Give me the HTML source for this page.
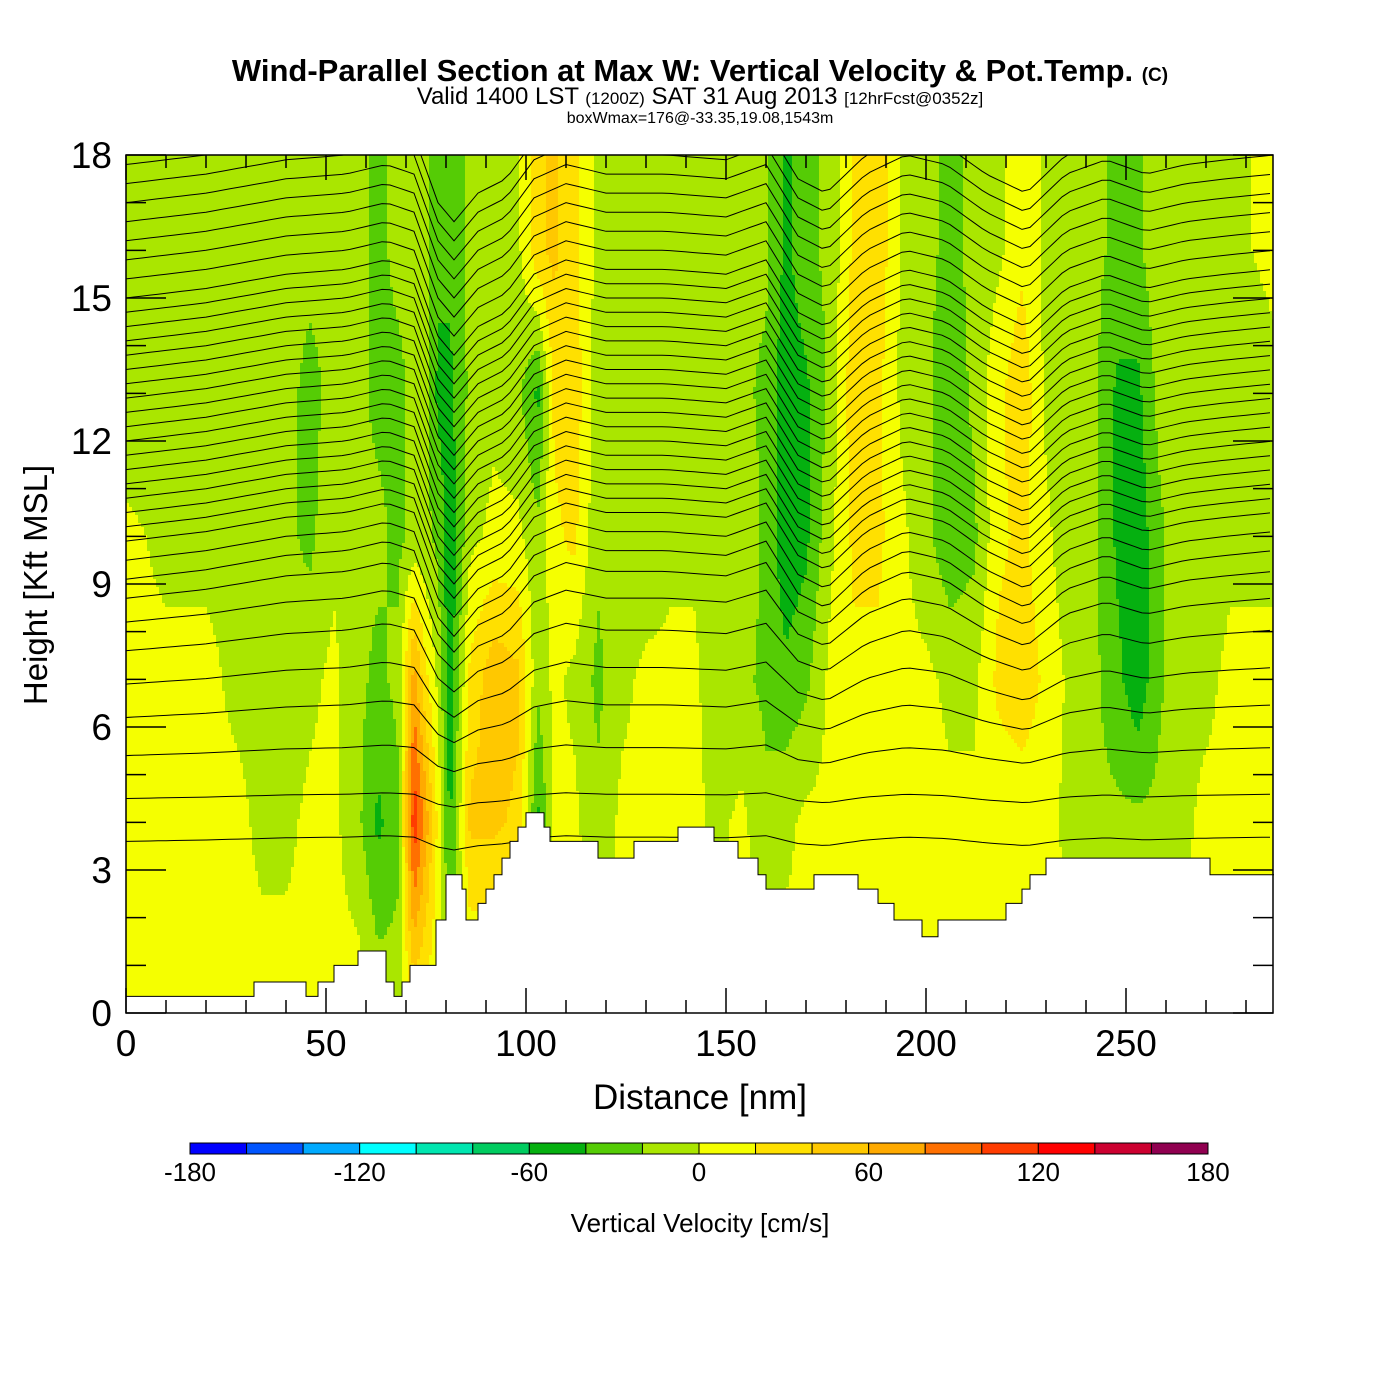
<!DOCTYPE html>
<html><head><meta charset="utf-8"><style>
body{margin:0;background:#fff;}
svg{display:block;font-family:"Liberation Sans",sans-serif;}
</style></head><body>
<svg id="chart" width="1400" height="1400" viewBox="0 0 1400 1400">
<rect width="1400" height="1400" fill="#fff"/>
<text x="700" y="81" text-anchor="middle" font-size="31" font-weight="bold">Wind-Parallel Section at Max W: Vertical Velocity &amp; Pot.Temp. <tspan font-size="19">(C)</tspan></text>
<text x="700" y="104" text-anchor="middle" font-size="24">Valid 1400 LST <tspan font-size="17">(1200Z)</tspan> SAT 31 Aug 2013 <tspan font-size="17">[12hrFcst@0352z]</tspan></text>
<text x="700" y="123" text-anchor="middle" font-size="16">boxWmax=176@-33.35,19.08,1543m</text>
<defs><clipPath id="plotclip"><rect x="126" y="155" width="1147" height="858"/></clipPath><clipPath id="airclip"><path id="airpath" d=""/></clipPath></defs>
<g id="field" clip-path="url(#plotclip)"></g>
<g id="contours" clip-path="url(#airclip)"></g>
<path id="terrain" fill="#fff" stroke="#000" stroke-width="1" d=""/>
<g id="axes"></g>
<g id="cbar"></g>
<text transform="translate(47,585) rotate(-90)" text-anchor="middle" font-size="33">Height [Kft MSL]</text>
<text x="700" y="1109" text-anchor="middle" font-size="35">Distance [nm]</text>
<text x="700" y="1232" text-anchor="middle" font-size="26">Vertical Velocity [cm/s]</text>
</svg>
<script>
const NS="http://www.w3.org/2000/svg";
const colDist=[0,10,20,28,34,40,46,52,58,63,68,72,75,78,81,86,92,98,103,107,112,118,124,130,136,142,148,154,160,165,170,176,182,188,194,200,206,212,218,224,230,236,242,248,253,258,264,270,276,287];
const levels=[1,4,7,10,13,16];
const wValues=[
[5,5,5,5,-15,-15],[5,5,5,-5,-15,-15],[5,5,5,-5,-15,-15],[5,5,-5,-5,-15,-15],[5,-5,-5,-15,-5,-5],
[5,-5,-15,-15,-15,-15],[5,5,-5,-25,-25,-15],[5,5,5,-5,-15,-15],[5,-15,-15,-15,-15,-15],[-15,-45,-25,-15,-25,-25],
[-15,-25,-15,-25,-25,-15],[45,115,70,-15,-15,-15],[25,70,25,-15,-15,-15],[5,15,-5,-25,-45,-35],[-25,-45,-55,-55,-45,-35],
[5,45,25,-5,-15,-15],[5,45,55,5,-5,-15],[5,35,45,5,-15,-5],[5,-45,-15,-15,-45,35],[5,5,5,15,25,45],
[5,5,-5,25,35,25],[5,-15,-25,-15,-15,-5],[5,5,-5,-15,-15,-15],[5,5,5,-15,-15,-15],[5,5,5,-5,-15,-15],
[5,5,5,-5,-5,-15],[5,-5,-15,-15,-15,-15],[5,5,-15,-5,-15,-15],[5,-15,-25,-25,-25,-15],[5,-5,-35,-55,-55,-45],
[5,5,-25,-45,-45,-25],[5,5,5,-5,-15,-15],[5,15,15,25,35,25],[5,5,15,25,25,35],[5,5,5,5,-5,-5],
[5,5,5,-15,-15,-15],[5,5,-5,-35,-35,-25],[5,5,-5,-25,-15,-15],[5,5,25,15,15,-5],[5,5,35,25,35,15],
[5,5,15,5,-5,-5],[5,-5,-5,-15,-15,-5],[5,-15,-15,-15,-15,-15],[5,-15,-35,-45,-45,-25],[5,-15,-55,-55,-45,-25],
[5,-15,-25,-25,-15,-5],[5,-5,-5,-5,-15,-5],[5,5,-5,-15,-15,-15],[5,5,5,-5,-15,-5],[5,5,5,-5,-5,5]];
const terrainDist=[0,32,45,48,52,58,65,67,69,71,77.5,80,84,85,88,90,92,94,96,98,100,104.5,106,108,118,127,138,147,153,158,160,172,183,188,192,199,203,220,224,226,230,271,287];
const terrainHgt=[0.35,0.65,0.35,0.65,1.0,1.3,0.65,0.35,0.65,1.0,1.95,2.9,2.6,1.95,2.3,2.6,2.9,3.25,3.6,3.9,4.2,3.9,3.6,3.6,3.25,3.6,3.9,3.6,3.25,2.9,2.6,2.9,2.6,2.3,1.95,1.6,1.95,2.3,2.6,2.9,3.25,2.9,2.9];
const thetaBase=[3.6,4.5,5.4,6.2,6.9,7.6,8.2,8.7,9.1,9.5,9.9,10.2,10.5,10.8,11.1,11.4,11.7,12.0,12.3,12.6,12.9,13.2,13.5,13.8,14.1,14.4,14.7,15.0,15.4,15.8,16.2,16.6,17.0,17.4,17.8];
const dispDist=[0,20,40,55,65,72,78,82,88,95,102,110,120,135,150,160,168,175,185,195,205,215,225,235,245,255,265,275,287];
const dispVal=[0,0.2,0.5,0.6,0.8,0.6,-0.8,-1.2,-0.6,-0.3,0.5,0.8,0.6,0.6,0.5,0.8,-0.3,-0.6,0.2,0.6,0.4,-0.2,-0.6,0.2,0.5,0.2,0.4,0.5,0.6];
const cbarTicks=[-180,-120,-60,0,60,120,180];
const cbarColors=["#0000ff","#0055ff","#00aaff","#00ffff","#00e6b0","#00cc60","#05b010","#55cc05","#aae600","#f5ff00","#ffe000","#ffc800","#ffaa00","#ff7000","#ff3c00","#ff0000","#cc0030","#900050"];
const X=d=>126+d*4, Y=h=>1013-h*47.667;
function interp(xs,ys,x){if(x<=xs[0])return ys[0];for(let i=1;i<xs.length;i++){if(x<=xs[i]){const t=(x-xs[i-1])/(xs[i]-xs[i-1]);return ys[i-1]+t*(ys[i]-ys[i-1]);}}return ys[ys.length-1];}
function colorOf(w){let i=Math.floor((w+180)/20);i=Math.max(0,Math.min(17,i));return cbarColors[i];}
// field
const field=document.getElementById('field');
function addCell(x,y,h,c){const r=document.createElementNS(NS,'rect');
  
  
  r.setAttribute('x',x);r.setAttribute('y',y);r.setAttribute('width',3.3);r.setAttribute('height',h+0.3);r.setAttribute('fill',c);field.appendChild(r);}
for(let px=126;px<1273;px+=3){
  const d=(px+1.5-126)/4;
  let ci=0;while(ci<colDist.length-2&&d>colDist[ci+1])ci++;
  const t=Math.max(0,Math.min(1,(d-colDist[ci])/(colDist[ci+1]-colDist[ci])));
  const prof=levels.map((l,k)=>wValues[ci][k]*(1-t)+wValues[ci+1][k]*t);
  let runStart=155,runCol=null;
  for(let py=155;py<1013;py+=4){
    const h=(1013-(py+2))/47.667;const col=colorOf(interp(levels,prof,h));
    if(col!==runCol){
      if(runCol)addCell(px,runStart,py-runStart,runCol);
      runStart=py;runCol=col;}
  }
  if(runCol)addCell(px,runStart,1013-runStart,runCol);
}
// terrain
let tp='M126,1013';
for(let i=0;i<terrainDist.length;i++){const x0=X(terrainDist[i]),x1=i<terrainDist.length-1?X(terrainDist[i+1]):1273;const y=Y(terrainHgt[i]);tp+=` L${x0},${y} L${x1},${y}`;}
tp+=' L1273,1013 Z';
let ap2='M126,155 L1273,155 L1273,'+Y(terrainHgt[terrainHgt.length-1]);
for(let i=terrainDist.length-1;i>=0;i--){const x0=X(terrainDist[i]),x1=i<terrainDist.length-1?X(terrainDist[i+1]):1273;const y=Y(terrainHgt[i]);ap2+=` L${x1},${y} L${x0},${y}`;}
ap2+=' Z';
document.getElementById('terrain').setAttribute('d',tp);
document.getElementById('airpath').setAttribute('d',ap2);
// contours
const cg=document.getElementById('contours');
thetaBase.forEach((h0,j)=>{
  const fac=Math.min(1,Math.max(0.15,(h0-4)/5));
  let d='';
  for(let nm=0;nm<=287;nm+=2){
    const h=h0+fac*interp(dispDist,dispVal,nm);
    d+=(nm?' L':'M')+X(nm).toFixed(1)+','+Y(h).toFixed(1);
  }
  const p=document.createElementNS(NS,'path');
  
  
  p.setAttribute('d',d);p.setAttribute('fill','none');p.setAttribute('stroke','#000');p.setAttribute('stroke-width','1');
  cg.appendChild(p);
});
// axes
const ax=document.getElementById('axes');
function line(x1,y1,x2,y2,name){const l=document.createElementNS(NS,'line');
  
  
  l.setAttribute('x1',x1);l.setAttribute('y1',y1);l.setAttribute('x2',x2);l.setAttribute('y2',y2);l.setAttribute('stroke','#000');l.setAttribute('stroke-width','1.5');ax.appendChild(l);}
function text(x,y,s,size,anchor,name,parent){const t=document.createElementNS(NS,'text');
  
  
  t.setAttribute('x',x);t.setAttribute('y',y);t.setAttribute('font-size',size);t.setAttribute('text-anchor',anchor);t.textContent=s;(parent||ax).appendChild(t);}
const frame=document.createElementNS(NS,'rect');


frame.setAttribute('x',126);frame.setAttribute('y',155);frame.setAttribute('width',1147);frame.setAttribute('height',858);frame.setAttribute('fill','none');frame.setAttribute('stroke','#000');frame.setAttribute('stroke-width','1.5');ax.appendChild(frame);
for(let h=0;h<=18;h++){const y=Y(h);const L=h%3===0?40:20;line(126,y,126+L,y,'y-tick');line(1273-L,y,1273,y,'y-tick');
  if(h%3===0)text(112,y+13,String(h),37,'end','y-tick-label');}
for(let d=0;d<=280;d+=10){const x=X(d);const L=d%50===0?25:13;line(x,1013,x,1013-L,'x-tick');line(x,155,x,155+L,'x-tick');
  if(d%50===0)text(x,1056,String(d),37,'middle','x-tick-label');}
// colorbar
const cb=document.getElementById('cbar');
const cbx=190,cbw=1018/18;
cbarColors.forEach((c,i)=>{const r=document.createElementNS(NS,'rect');
  
  
  r.setAttribute('x',cbx+i*cbw);r.setAttribute('y',1143);r.setAttribute('width',cbw);r.setAttribute('height',11);r.setAttribute('fill',c);r.setAttribute('stroke','#000');r.setAttribute('stroke-width','1');cb.appendChild(r);});
cbarTicks.forEach(v=>text(cbx+(v+180)/20*cbw,1181,String(v),26,'middle','colorbar-tick-label',cb));
</script>
</body></html>
